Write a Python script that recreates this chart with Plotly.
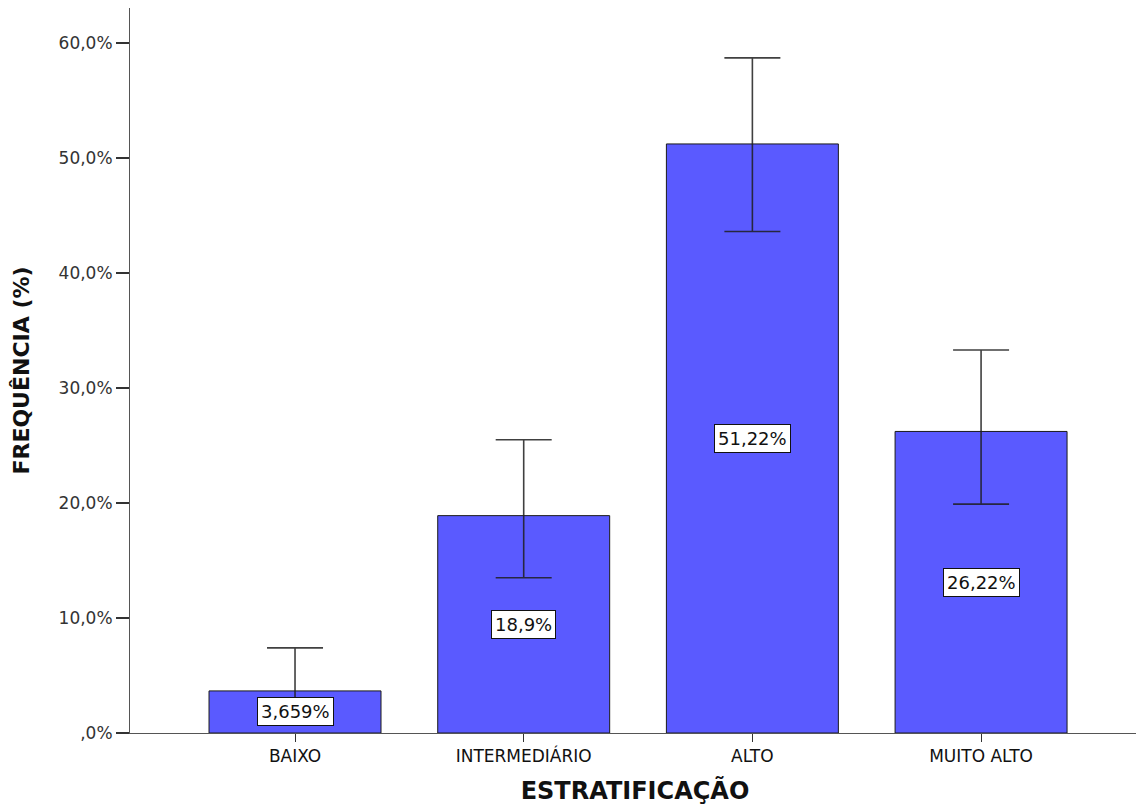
import plotly.graph_objects as go

categories = ["BAIXO", "INTERMEDIÁRIO", "ALTO", "MUITO ALTO"]
values = [3.659, 18.9, 51.22, 26.22]
ci_upper = [7.4, 25.5, 58.7, 33.3]
ci_lower = [1.5, 13.5, 43.6, 19.9]
value_labels = ["3,659%", "18,9%", "51,22%", "26,22%"]
y_tickvals = [0, 10, 20, 30, 40, 50, 60]
y_ticktext = [",0%", "10,0%", "20,0%", "30,0%", "40,0%", "50,0%", "60,0%"]

err_plus = [u - v for u, v in zip(ci_upper, values)]
err_minus = [v - l for v, l in zip(values, ci_lower)]

FONT = "DejaVu Sans"

fig = go.Figure()
fig.add_trace(go.Bar(
    x=categories, y=values, width=0.752,
    marker=dict(color="#5A5AFF", line=dict(color="#1a1a1a", width=1)),
    error_y=dict(type="data", array=err_plus, arrayminus=err_minus,
                 color="rgba(30,30,30,0.85)", thickness=1.6, width=28),
    hoverinfo="x+y",
))

for c, v, t in zip(categories, values, value_labels):
    fig.add_annotation(x=c, y=v / 2, text=t, showarrow=False,
                       font=dict(family=FONT, size=18, color="#111"),
                       bgcolor="white", bordercolor="#111", borderwidth=1, borderpad=3)

fig.update_layout(
    width=1144, height=810,
    margin=dict(l=122, r=12, t=0, b=85),
    plot_bgcolor="white", paper_bgcolor="white",
    showlegend=False,
    font=dict(family=FONT, color="#222"),
    xaxis=dict(
        range=[-0.7216, 3.695], showgrid=False, zeroline=False,
        showline=True, linecolor="#555", linewidth=1,
        ticks="outside", ticklen=8, tickcolor="#333", tickwidth=1,
        tickfont=dict(size=17, color="#111"),
        title=dict(text="<b>ESTRATIFICAÇÃO</b>", font=dict(size=24, color="#111"), standoff=16),
    ),
    yaxis=dict(
        range=[0, 63.04], showgrid=False, zeroline=False,
        showline=True, linecolor="#555", linewidth=1,
        ticks="outside", ticklen=13, tickcolor="#333", tickwidth=2,
        tickvals=y_tickvals, ticktext=y_ticktext,
        tickfont=dict(size=17, color="#333"),
        title=dict(text="<b>FREQUÊNCIA (%)</b>", font=dict(size=22, color="#111"), standoff=22),
    ),
)

fig.write_html("out.html")
